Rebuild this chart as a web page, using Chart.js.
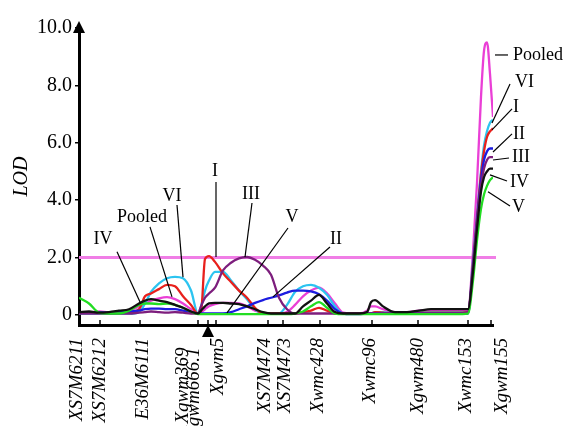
<!DOCTYPE html>
<html>
<head>
<meta charset="utf-8">
<script src="https://cdn.jsdelivr.net/npm/chart.js@4"></script>
<style>
  html, body { margin: 0; padding: 0; background: #fff; }
</style>
</head>
<body>
<canvas id="chart" width="565" height="426"></canvas>
<script>
// map positions (cM) shared by all scans
const positions = [0, 5, 10, 15, 20, 25, 30, 33, 36, 40, 44, 48, 52, 56, 59.5, 61, 63, 65, 68,
  72, 76, 80, 84, 88, 92, 96, 100, 104, 108, 112, 116, 120, 124, 128, 132, 136, 140, 144, 146, 148,
  152, 158, 164, 170, 176, 182, 188, 194.5, 197, 199, 201, 202.5, 204, 205.5, 207];

// LOD values per environment
const pooled = [0.10, 0.10, 0.12, 0.10, 0.10, 0.15, 0.30, 0.40, 0.50, 0.58, 0.62, 0.55, 0.40, 0.20,
  0.05, 0.10, 0.20, 0.30, 0.38, 0.42, 0.42, 0.40, 0.30, 0.15, 0.08, 0.05, 0.05, 0.10, 0.35, 0.65,
  0.85, 0.95, 0.75, 0.40, 0.08, 0.05, 0.05, 0.15, 0.30, 0.30, 0.20, 0.10, 0.10, 0.15, 0.17, 0.17,
  0.17, 0.17, 2.20, 4.60, 7.60, 9.20, 9.50, 8.40, 6.90];
const envVI = [0.05, 0.05, 0.05, 0.05, 0.05, 0.05, 0.10, 0.40, 0.80, 1.10, 1.28, 1.33, 1.28, 0.85,
  0.05, 0.30, 0.85, 1.20, 1.50, 1.50, 1.20, 0.85, 0.55, 0.20, 0.05, 0.05, 0.05, 0.35, 0.80, 1.00,
  1.05, 0.95, 0.70, 0.30, 0.05, 0.05, 0.05, 0.05, 0.05, 0.10, 0.10, 0.05, 0.05, 0.10, 0.10, 0.10,
  0.10, 0.10, 1.90, 3.50, 5.00, 5.90, 6.40, 6.70, 6.80];
const envI = [0.10, 0.08, 0.10, 0.08, 0.10, 0.10, 0.20, 0.65, 0.75, 0.90, 1.05, 1.00, 0.65, 0.35,
  0.05, 0.10, 1.95, 2.05, 1.85, 1.45, 1.15, 0.85, 0.60, 0.25, 0.05, 0.05, 0.05, 0.05, 0.05, 0.10,
  0.15, 0.25, 0.15, 0.05, 0.05, 0.05, 0.05, 0.05, 0.05, 0.10, 0.08, 0.05, 0.05, 0.08, 0.08, 0.08,
  0.08, 0.10, 1.80, 3.40, 4.90, 5.70, 6.20, 6.40, 6.50];
const envII = [0.10, 0.10, 0.10, 0.08, 0.10, 0.12, 0.15, 0.20, 0.22, 0.22, 0.20, 0.20, 0.15, 0.10,
  0.05, 0.05, 0.05, 0.05, 0.05, 0.05, 0.10, 0.20, 0.30, 0.42, 0.52, 0.60, 0.68, 0.78, 0.85, 0.85,
  0.82, 0.72, 0.50, 0.20, 0.05, 0.03, 0.03, 0.05, 0.05, 0.05, 0.05, 0.05, 0.05, 0.05, 0.05, 0.05,
  0.05, 0.05, 1.70, 3.30, 4.70, 5.40, 5.70, 5.80, 5.80];
const envIII = [0.05, 0.05, 0.05, 0.05, 0.05, 0.05, 0.08, 0.10, 0.12, 0.10, 0.08, 0.10, 0.08, 0.05,
  0.05, 0.30, 0.60, 0.75, 0.95, 1.55, 1.82, 1.97, 2.02, 1.92, 1.72, 1.40, 0.60, 0.20, 0.05, 0.05,
  0.05, 0.05, 0.05, 0.05, 0.05, 0.05, 0.05, 0.05, 0.05, 0.05, 0.05, 0.05, 0.05, 0.05, 0.05, 0.05,
  0.05, 0.10, 1.60, 3.20, 4.50, 5.10, 5.40, 5.50, 5.50];
const envIV = [0.60, 0.40, 0.08, 0.05, 0.05, 0.15, 0.35, 0.40, 0.40, 0.38, 0.40, 0.35, 0.25, 0.12,
  0.03, 0.03, 0.03, 0.03, 0.03, 0.03, 0.03, 0.03, 0.03, 0.03, 0.03, 0.03, 0.03, 0.03, 0.05, 0.12,
  0.30, 0.45, 0.25, 0.05, 0.03, 0.03, 0.03, 0.03, 0.03, 0.03, 0.03, 0.03, 0.03, 0.03, 0.03, 0.03,
  0.03, 0.05, 1.20, 2.60, 3.70, 4.20, 4.50, 4.70, 4.80];
const envV = [0.10, 0.12, 0.08, 0.10, 0.15, 0.20, 0.40, 0.50, 0.55, 0.50, 0.45, 0.35, 0.25, 0.12,
  0.05, 0.15, 0.30, 0.40, 0.42, 0.42, 0.40, 0.38, 0.30, 0.20, 0.10, 0.05, 0.05, 0.05, 0.05, 0.30,
  0.50, 0.70, 0.40, 0.10, 0.05, 0.05, 0.05, 0.10, 0.45, 0.52, 0.30, 0.10, 0.10, 0.15, 0.20, 0.20,
  0.20, 0.20, 1.50, 3.00, 4.30, 4.80, 5.00, 5.10, 5.10];

const threshold = 2.0;

// markers on the linkage map
const markerNames = ['XS7M6211', 'XS7M6212', 'E36M6111', 'Xgwm369', 'Xgwm666.1', 'Xgwm5', 'XS7M474',
  'XS7M473', 'Xwmc428', 'Xwmc96', 'Xgwm480', 'Xwmc153', 'Xgwm155'];
const markerPos = [0.5, 10.5, 30.5, 59.5, 64.5, 68.5, 94.5, 102, 120.5, 146.5, 169.5, 194.5, 206];
const labelPos = [-1, 10.5, 32, 52, 57.5, 69.5, 93, 103, 119.5, 145.5, 169.5, 193.5, 211.5];
const yTicks = [0, 2, 4, 6, 8, 10];

// callouts: text anchor and leader line, in data units
const callouts = [
  { text: 'IV', at: [12, 2.65], from: [19, 2.2], to: [30.5, 0.45] },
  { text: 'Pooled', at: [31.5, 3.41], from: [35.5, 3.07], to: [46.5, 0.63] },
  { text: 'VI', at: [46.5, 4.15], from: [49, 3.83], to: [52, 1.32] },
  { text: 'I', at: [68, 5.02], from: [68.5, 4.63], to: [68.5, 2.02] },
  { text: 'III', at: [86, 4.22], from: [86.5, 3.9], to: [83, 2.02] },
  { text: 'V', at: [106.5, 3.41], from: [104.5, 3.03], to: [74, 0.07] },
  { text: 'II', at: [128.5, 2.65], from: [125.5, 2.37], to: [97, 0.63] },
  { text: 'Pooled', at: [217, 9.06], from: [214.5, 9.06], to: [208, 9.06], left: true },
  { text: 'VI', at: [218, 8.12], from: [215.5, 8.05], to: [206.5, 6.69], left: true },
  { text: 'I', at: [217, 7.25], from: [216.5, 7.18], to: [206.5, 6.45], left: true },
  { text: 'II', at: [217, 6.31], from: [216.5, 6.31], to: [207, 5.68], left: true },
  { text: 'III', at: [216.5, 5.51], from: [215, 5.47], to: [207, 5.4], left: true },
  { text: 'IV', at: [215.5, 4.63], from: [214, 4.67], to: [205.5, 4.88], left: true },
  { text: 'V', at: [216.5, 3.76], from: [215.5, 3.8], to: [204.5, 4.29], left: true }
];

const SERIF = '"Liberation Serif", "Times New Roman", serif';

function series(label, values, color) {
  return {
    label,
    data: positions.map((x, i) => ({ x, y: values[i] })),
    borderColor: color,
    borderWidth: 2.3,
    pointRadius: 0,
    tension: 0.3,
    cubicInterpolationMode: 'monotone'
  };
}

// arrows, marker ticks and callout labels
const decorations = {
  id: 'decorations',
  afterDraw(chart) {
    const { ctx, chartArea, scales: { x, y } } = chart;
    ctx.save();
    ctx.fillStyle = '#000';
    ctx.strokeStyle = '#000';

    // arrow head on the LOD axis
    ctx.beginPath();
    ctx.moveTo(chartArea.left, chartArea.top - 7);
    ctx.lineTo(chartArea.left - 6, chartArea.top + 5);
    ctx.lineTo(chartArea.left + 6, chartArea.top + 5);
    ctx.closePath();
    ctx.fill();

    // marker ticks on the map axis
    ctx.lineWidth = 1.5;
    markerPos.forEach(p => {
      const px = x.getPixelForValue(p);
      ctx.beginPath();
      ctx.moveTo(px, chartArea.bottom - 5);
      ctx.lineTo(px, chartArea.bottom);
      ctx.stroke();
    });

    // arrow below Xgwm666.1
    const ax = x.getPixelForValue(markerPos[4]);
    ctx.beginPath();
    ctx.moveTo(ax, chartArea.bottom);
    ctx.lineTo(ax - 6, chartArea.bottom + 12);
    ctx.lineTo(ax + 6, chartArea.bottom + 12);
    ctx.closePath();
    ctx.fill();

    // callouts
    ctx.lineWidth = 1.2;
    ctx.font = '18px ' + SERIF;
    ctx.textBaseline = 'middle';
    callouts.forEach(c => {
      ctx.beginPath();
      ctx.moveTo(x.getPixelForValue(c.from[0]), y.getPixelForValue(c.from[1]));
      ctx.lineTo(x.getPixelForValue(c.to[0]), y.getPixelForValue(c.to[1]));
      ctx.stroke();
      ctx.textAlign = c.left ? 'left' : 'center';
      ctx.fillText(c.text, x.getPixelForValue(c.at[0]), y.getPixelForValue(c.at[1]));
    });
    ctx.restore();
  }
};

const thresholdLine = {
  label: 'threshold',
  data: [{ x: 0, y: threshold }, { x: 208.5, y: threshold }],
  borderColor: '#f07ee6',
  borderWidth: 3,
  pointRadius: 0,
  clip: false
};

new Chart(document.getElementById('chart'), {
  type: 'line',
  data: {
    datasets: [
      series('V', envV, '#111111'),
      series('IV', envIV, '#22dd22'),
      series('III', envIII, '#7d1e7d'),
      series('II', envII, '#1c1ce0'),
      series('I', envI, '#e8201c'),
      series('VI', envVI, '#2cc4f0'),
      series('Pooled', pooled, '#ea3fd6'),
      thresholdLine
    ]
  },
  options: {
    responsive: false,
    animation: false,
    devicePixelRatio: 1,
    layout: { padding: { top: 28, right: 72, left: 0, bottom: 0 } },
    plugins: { legend: { display: false }, tooltip: { enabled: false } },
    scales: {
      x: {
        type: 'linear',
        min: 0,
        max: 207,
        grid: { display: false },
        border: { display: true, color: '#000', width: 3 },
        afterBuildTicks: s => { s.ticks = labelPos.map(v => ({ value: v })); },
        afterFit: s => { s.height = 101; },
        ticks: {
          autoSkip: false,
          minRotation: 90,
          maxRotation: 90,
          padding: 5,
          color: '#000',
          font: { family: SERIF, size: 19, style: 'italic' },
          // push the crowded labels a little away from the axis
          callback: (v, i) => markerNames[i] + (i === 3 || i === 4 ? '  ' : '')
        }
      },
      y: {
        min: -0.35,
        max: 10,
        grid: { drawOnChartArea: false, drawTicks: true, tickLength: 4, color: '#000', lineWidth: 1.5 },
        border: { display: true, color: '#000', width: 3 },
        afterBuildTicks: s => { s.ticks = yTicks.map(v => ({ value: v })); },
        afterFit: s => { s.width = 79; },
        ticks: {
          padding: 3,
          color: '#000',
          font: { family: SERIF, size: 20 },
          callback: v => (v === 0 ? '0' : v.toFixed(1))
        },
        title: {
          display: true,
          text: 'LOD',
          color: '#000',
          padding: { top: 10, bottom: 0 },
          font: { family: SERIF, size: 20, style: 'italic' }
        }
      }
    }
  },
  plugins: [decorations]
});
</script>
</body>
</html>
